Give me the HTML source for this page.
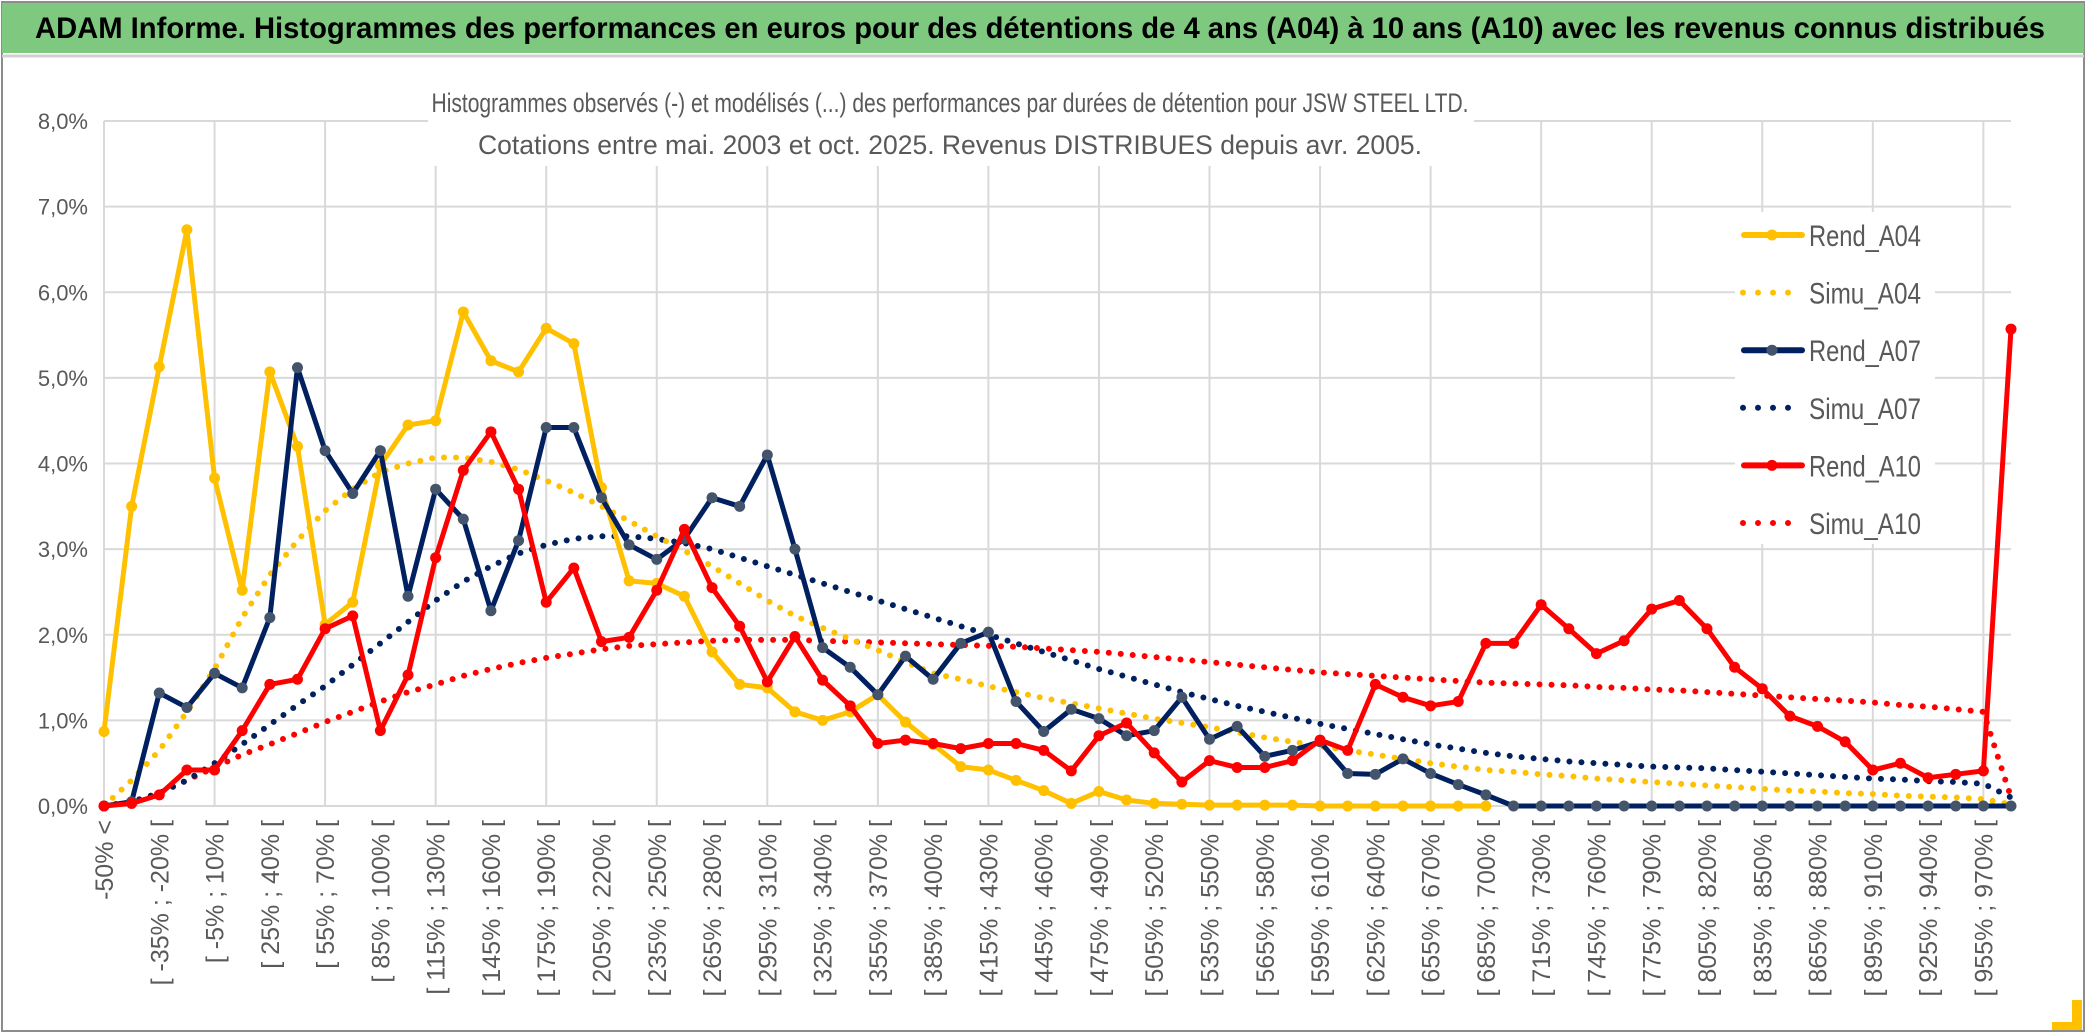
<!DOCTYPE html>
<html><head><meta charset="utf-8"><style>
html,body{margin:0;padding:0;background:#fff;}
svg{display:block;font-family:"Liberation Sans",sans-serif;}
</style></head><body>
<svg id="chart" width="2086" height="1033" viewBox="0 0 2086 1033">
<rect x="0" y="0" width="2086" height="1033" fill="#fff"/>
<rect x="2" y="2" width="2082" height="1029" fill="none" stroke="#8c8c8c" stroke-width="2"/>
<rect x="2" y="3" width="2082" height="50" fill="#7ec97f"/>
<text x="1040" y="38" text-anchor="middle" font-size="30" font-weight="bold" fill="#000" textLength="2010" lengthAdjust="spacingAndGlyphs">ADAM Informe. Histogrammes des performances en euros pour des détentions de 4 ans (A04) à 10 ans (A10) avec les revenus connus distribués</text>
<line x1="2" y1="56" x2="2084" y2="56" stroke="#d0d0d0" stroke-width="3"/>
<rect x="2072" y="1000" width="10" height="30" fill="#ffc000"/>
<rect x="2052" y="1022" width="30" height="8" fill="#ffc000"/>
<g id="grid"></g>
<rect x="428" y="78" width="1046" height="88" fill="#fff"/>
<text x="950" y="112" text-anchor="middle" font-size="27" fill="#595959" textLength="1037" lengthAdjust="spacingAndGlyphs">Histogrammes observés (-) et modélisés (...) des performances par durées de détention pour JSW STEEL LTD.</text>
<text x="950" y="154" text-anchor="middle" font-size="27" fill="#595959" textLength="944" lengthAdjust="spacingAndGlyphs">Cotations entre mai. 2003 et oct. 2025. Revenus DISTRIBUES depuis avr. 2005.</text>
<g id="yaxis"></g>
<g id="xaxis"></g>
<g id="series"></g>
<g id="legend"></g>
</svg>
<script>
const rendA04 = [0.87,3.5,5.13,6.73,3.83,2.52,5.07,4.2,2.12,2.38,3.98,4.45,4.5,5.77,5.2,5.07,5.58,5.4,3.72,2.63,2.6,2.45,1.8,1.42,1.38,1.1,1.0,1.1,1.3,0.98,0.72,0.46,0.42,0.3,0.18,0.03,0.17,0.07,0.03,0.02,0.01,0.01,0.01,0.01,0,0,0,0,0,0,0];
const simuA04 = [0,0.3,0.65,1.1,1.6,2.2,2.7,3.1,3.45,3.7,3.9,4.0,4.07,4.07,4.02,3.93,3.8,3.66,3.5,3.33,3.15,2.98,2.8,2.6,2.4,2.22,2.08,1.95,1.82,1.68,1.55,1.48,1.4,1.33,1.26,1.2,1.14,1.08,1.02,0.97,0.92,0.86,0.8,0.75,0.7,0.65,0.6,0.55,0.5,0.46,0.42,0.4,0.37,0.35,0.32,0.3,0.28,0.26,0.24,0.22,0.2,0.18,0.17,0.15,0.14,0.12,0.11,0.1,0.08,0.02];
const rendA07 = [0,0.05,1.32,1.15,1.55,1.38,2.2,5.12,4.15,3.65,4.15,2.45,3.7,3.35,2.28,3.1,4.42,4.42,3.6,3.05,2.88,3.12,3.6,3.5,4.1,3.0,1.85,1.62,1.3,1.75,1.48,1.9,2.03,1.22,0.87,1.13,1.02,0.82,0.88,1.27,0.78,0.93,0.58,0.65,0.75,0.38,0.37,0.55,0.38,0.25,0.13,0,0,0,0,0,0,0,0,0,0,0,0,0,0,0,0,0,0,0];
const simuA07 = [0,0.05,0.15,0.3,0.5,0.72,0.95,1.18,1.4,1.65,1.9,2.15,2.4,2.62,2.8,2.95,3.05,3.12,3.15,3.15,3.12,3.07,3.0,2.9,2.8,2.7,2.6,2.5,2.4,2.3,2.2,2.1,2.0,1.9,1.8,1.7,1.6,1.51,1.42,1.33,1.25,1.17,1.1,1.03,0.96,0.9,0.84,0.78,0.72,0.67,0.62,0.58,0.55,0.52,0.5,0.48,0.46,0.45,0.44,0.42,0.4,0.38,0.36,0.34,0.32,0.31,0.29,0.28,0.26,0.1];
const rendA10 = [0,0.03,0.13,0.42,0.42,0.88,1.42,1.48,2.07,2.22,0.88,1.53,2.9,3.92,4.37,3.7,2.38,2.78,1.92,1.97,2.52,3.23,2.55,2.1,1.45,1.98,1.47,1.17,0.73,0.77,0.73,0.67,0.73,0.73,0.65,0.41,0.82,0.97,0.62,0.28,0.53,0.45,0.45,0.53,0.77,0.65,1.42,1.27,1.17,1.22,1.9,1.9,2.35,2.07,1.78,1.93,2.3,2.4,2.07,1.62,1.37,1.05,0.93,0.75,0.42,0.5,0.33,0.37,0.41,5.57];
const simuA10 = [0,0.05,0.15,0.3,0.45,0.6,0.72,0.85,0.98,1.1,1.22,1.33,1.42,1.52,1.6,1.67,1.73,1.78,1.83,1.87,1.89,1.91,1.93,1.94,1.94,1.94,1.93,1.92,1.91,1.9,1.89,1.88,1.87,1.86,1.84,1.82,1.8,1.77,1.74,1.71,1.68,1.65,1.62,1.59,1.56,1.54,1.52,1.5,1.48,1.46,1.44,1.43,1.42,1.41,1.39,1.38,1.36,1.35,1.33,1.31,1.29,1.27,1.25,1.23,1.21,1.18,1.16,1.13,1.1,0.1];
const yTicks = [0,1,2,3,4,5,6,7,8];
const categories = ["-50% <"];
for (let i = 1; i < 70; i++) { const a = -50 + 15*(i-1); categories.push("[ " + a + "% ; " + (a+15) + "% ["); }

const NS = "http://www.w3.org/2000/svg";
const X0 = 104, X1 = 2011, Y0 = 806, YTOP = 121;
function xs(i){ return X0 + i*(X1-X0)/(categories.length-1); }
function ys(v){ return Y0 - v*(Y0-YTOP)/8; }
function mk(tag, attrs, parent){ const e=document.createElementNS(NS,tag); for(const k in attrs) e.setAttribute(k,attrs[k]); parent.appendChild(e); return e; }

const grid=document.getElementById('grid');
yTicks.forEach(t=>{
  const l=mk('line',{x1:X0,x2:X1,y1:ys(t),y2:ys(t),stroke:'#d9d9d9','stroke-width':2},grid);
  
  
});
for(let i=0;i<categories.length;i+=4){
  const l=mk('line',{x1:xs(i),x2:xs(i),y1:YTOP,y2:Y0,stroke:'#d9d9d9','stroke-width':2},grid);
  
  
}
const ya=document.getElementById('yaxis');
yTicks.forEach(t=>{
  const tx=mk('text',{x:88,y:ys(t)+8,'text-anchor':'end','font-size':22,fill:'#595959'},ya);
  tx.textContent=t.toFixed(1).replace('.',',')+'%';
  
  
});
const xa=document.getElementById('xaxis');
for(let i=0;i<categories.length;i+=2){
  const tx=mk('text',{x:0,y:0,'text-anchor':'end','font-size':25,fill:'#595959',transform:'translate('+(xs(i)+9)+',820) rotate(-90)'},xa);
  tx.textContent=categories[i];
  
  
}
const sg=document.getElementById('series');
function dotted(data,color,name){
  const p=mk('polyline',{points:data.map((v,i)=>xs(i)+','+ys(v)).join(' '),fill:'none',stroke:color,'stroke-width':6,'stroke-linecap':'round','stroke-dasharray':'0 12'},sg);
  
  
}
function solid(data,color,mcolor,name){
  const g=mk('g',{},sg);
  
  
  mk('polyline',{points:data.map((v,i)=>xs(i)+','+ys(v)).join(' '),fill:'none',stroke:color,'stroke-width':5,'stroke-linejoin':'round'},g);
  data.forEach((v,i)=>{
    const c=mk('circle',{cx:xs(i),cy:ys(v),r:5.5,fill:mcolor},g);
    
    
  });
}
dotted(simuA10,'#ff0000','simu-a10-line');
dotted(simuA07,'#002060','simu-a07-line');
dotted(simuA04,'#ffc000','simu-a04-line');
solid(rendA04,'#ffc000','#ffc000','rend-a04-line');
solid(rendA07,'#002060','#44546a','rend-a07-line');
solid(rendA10,'#ff0000','#ff0000','rend-a10-line');

const lg=document.getElementById('legend');
mk('rect',{x:1735,y:212,width:200,height:332,fill:'#fff'},lg);
const legItems=[["Rend_A04","#ffc000","#ffc000",false],["Simu_A04","#ffc000",null,true],["Rend_A07","#002060","#44546a",false],["Simu_A07","#002060",null,true],["Rend_A10","#ff0000","#ff0000",false],["Simu_A10","#ff0000",null,true]];
legItems.forEach((it,k)=>{
  const y=235+k*57.6;
  const g=mk('g',{},lg);
  
  
  if(it[3]){
    mk('line',{x1:1743,x2:1803,y1:y,y2:y,stroke:it[1],'stroke-width':6,'stroke-linecap':'round','stroke-dasharray':'0 15'},g);
  } else {
    mk('line',{x1:1744,x2:1802,y1:y,y2:y,stroke:it[1],'stroke-width':6,'stroke-linecap':'round'},g);
    mk('circle',{cx:1772,cy:y,r:5.5,fill:it[2]},g);
  }
  const t=mk('text',{x:1809,y:y+11,'font-size':30,fill:'#595959',textLength:112,lengthAdjust:'spacingAndGlyphs'},g);
  t.textContent=it[0];
});
</script>
</body></html>
